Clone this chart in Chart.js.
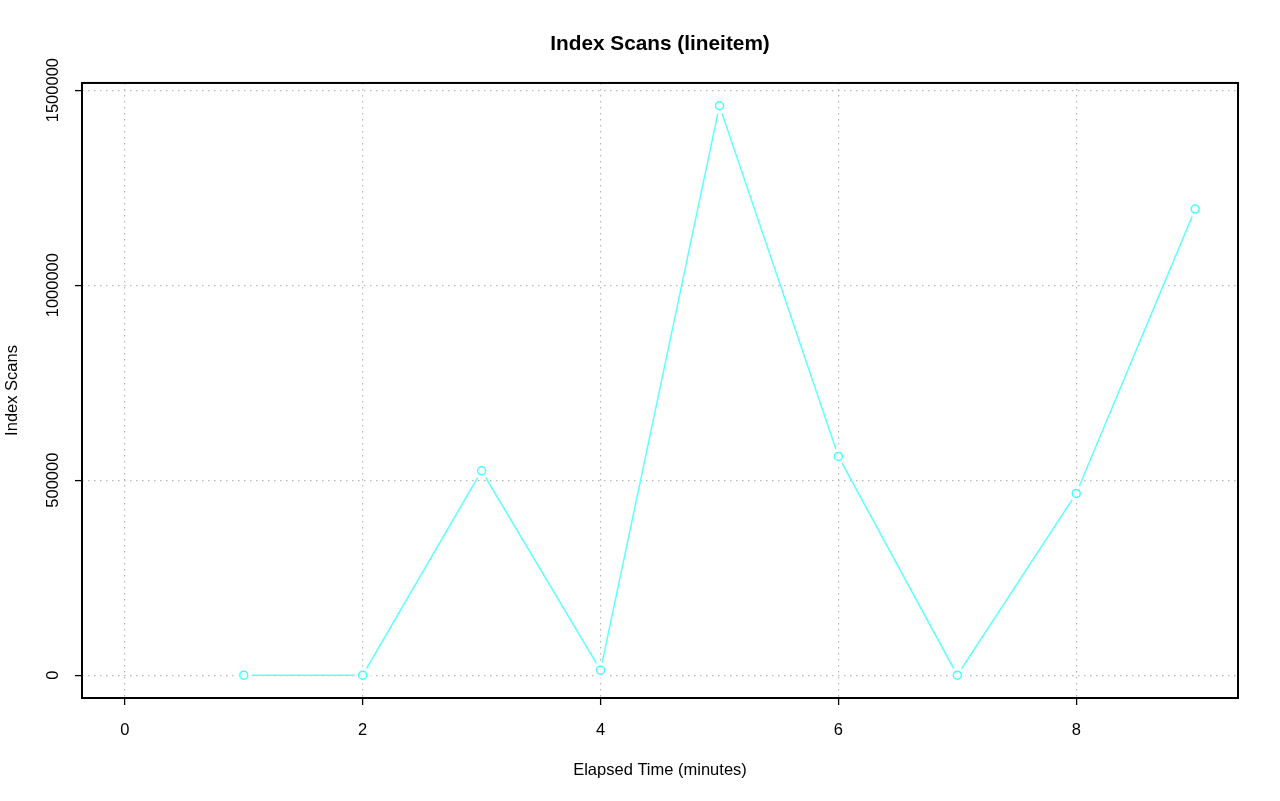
<!DOCTYPE html>
<html>
<head>
<meta charset="utf-8">
<script src="https://cdn.jsdelivr.net/npm/chart.js@4"></script>
<style>
  body { margin: 0; background: #fff; }
  #wrap { width: 1280px; height: 801px; }
</style>
</head>
<body>
<div id="wrap"><canvas id="chart" width="1280" height="801"></canvas></div>
<script>
// data
const minutes = [1, 2, 3, 4, 5, 6, 7, 8, 9];
const indexScans = [0, 0, 524000, 13000, 1460000, 561000, 0, 466000, 1195000];
const xTicks = [0, 2, 4, 6, 8];
const yTicks = [0, 500000, 1000000, 1500000];

const points = minutes.map((m, i) => ({ x: m, y: indexScans[i] }));
const FONT = 'Liberation Sans, Arial, Helvetica, sans-serif';

// R style axis range: 4% padding on each side
const xMin = 0, xMax = 9;
const yMin = 0, yMax = Math.max(...indexScans);
const xPad = (xMax - xMin) * 0.04;
const yPad = (yMax - yMin) * 0.04;

// box around plot + rotated y tick labels
const rStyle = {
  id: 'rStyle',
  afterDraw(chart) {
    const ctx = chart.ctx;
    const a = chart.chartArea;
    const y = chart.scales.y;
    ctx.save();
    ctx.strokeStyle = '#000';
    ctx.lineWidth = 2;
    ctx.strokeRect(a.left, a.top, a.right - a.left, a.bottom - a.top);
    ctx.fillStyle = '#000';
    ctx.font = '16.5px ' + FONT;
    ctx.textAlign = 'center';
    ctx.textBaseline = 'middle';
    yTicks.forEach(v => {
      ctx.save();
      ctx.translate(53, y.getPixelForValue(v));
      ctx.rotate(-Math.PI / 2);
      ctx.fillText(String(v), 0, 0);
      ctx.restore();
    });
    ctx.restore();
  }
};

const gridStyle = {
  color: '#b8b8b8',
  lineWidth: 1.2,
  drawTicks: true,
  tickLength: 7,
  tickColor: '#000',
  tickWidth: 1.3,
  tickBorderDash: []
};
const dotted = { display: false, dash: [1.5, 4.5] };

new Chart(document.getElementById('chart'), {
  type: 'line',
  data: {
    datasets: [
      {
        label: 'points',
        data: points,
        showLine: false,
        pointRadius: 4,
        pointBorderWidth: 1.5,
        pointBorderColor: '#44ffff',
        pointBackgroundColor: '#fff',
        order: 1
      },
      {
        label: 'gaps',
        data: points,
        showLine: false,
        pointRadius: 8,
        pointBorderWidth: 0,
        pointBackgroundColor: '#fff',
        order: 2
      },
      {
        label: 'line',
        data: points,
        borderColor: '#60ffff',
        borderWidth: 1.5,
        pointRadius: 0,
        tension: 0,
        order: 3
      }
    ]
  },
  options: {
    responsive: false,
    animation: false,
    devicePixelRatio: 1,
    layout: { padding: { left: 0, right: 42, top: 0, bottom: 0 } },
    plugins: {
      legend: { display: false },
      tooltip: { enabled: false },
      title: {
        display: true,
        fullSize: false,
        text: 'Index Scans (lineitem)',
        color: '#000',
        font: { family: FONT, size: 20.8, weight: 'bold' },
        padding: { top: 32, bottom: 26 }
      }
    },
    scales: {
      x: {
        type: 'linear',
        min: xMin - xPad,
        max: xMax + xPad,
        afterBuildTicks: s => { s.ticks = xTicks.map(v => ({ value: v })); },
        afterFit: s => { s.height = 103; },
        border: dotted,
        grid: gridStyle,
        ticks: {
          color: '#000',
          font: { family: FONT, size: 16.5 },
          padding: 16,
          maxRotation: 0
        },
        title: {
          display: true,
          text: 'Elapsed Time (minutes)',
          color: '#000',
          font: { family: FONT, size: 16.5 },
          padding: { top: 0, bottom: 21 }
        }
      },
      y: {
        type: 'linear',
        min: yMin - yPad,
        max: yMax + yPad,
        afterBuildTicks: s => { s.ticks = yTicks.map(v => ({ value: v })); },
        afterFit: s => { s.width = 82; },
        border: dotted,
        grid: gridStyle,
        ticks: { display: false },
        title: {
          display: true,
          text: 'Index Scans',
          color: '#000',
          font: { family: FONT, size: 16.5 },
          padding: { top: 3, bottom: 0 }
        }
      }
    }
  },
  plugins: [rStyle]
});
</script>
</body>
</html>
